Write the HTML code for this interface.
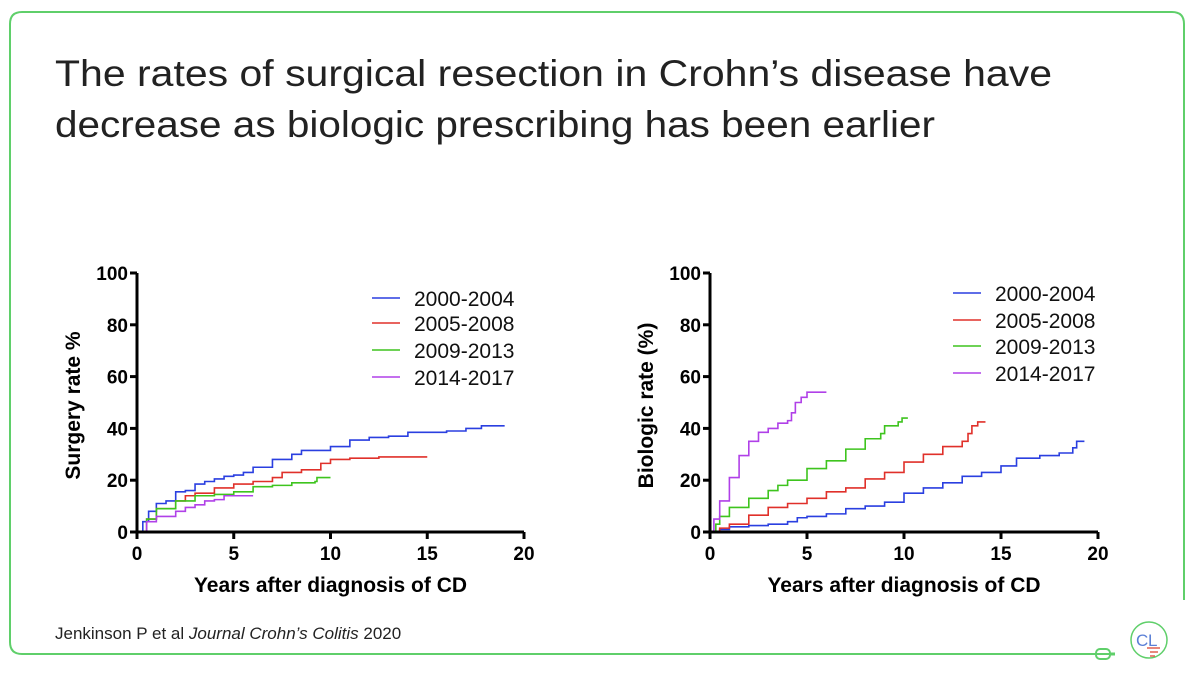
<!DOCTYPE html>
<html><head><meta charset="utf-8"><style>
html,body{margin:0;padding:0;background:#fff;width:1200px;height:675px;overflow:hidden}
svg{display:block;font-family:"Liberation Sans",sans-serif}
</style></head><body>
<svg id="s" width="1200" height="675" viewBox="0 0 1200 675">
<path d="M1110 654 L22 654 Q10 654 10 642 L10 24 Q10 12 22 12 L1172 12 Q1184 12 1184 24 L1184 600" fill="none" stroke="#5fcf6a" stroke-width="2"/>
<rect x="1096" y="649" width="14" height="10" rx="4" fill="none" stroke="#5fcf6a" stroke-width="2"/>
<line x1="1110" y1="654" x2="1115" y2="654" stroke="#5fcf6a" stroke-width="3"/>
<g>
<circle cx="1149" cy="640" r="18" fill="none" stroke="#5fcf6a" stroke-width="1.5"/>
<text x="1136" y="646" font-size="17" fill="#5a7fd6">C</text><text x="1148" y="646" font-size="17" fill="#5a7fd6">L</text>
<path d="M1147 648 H1160 M1150 652 H1158 M1150 656 H1155" stroke="#e06050" stroke-width="1.5"/>
</g>
<text x="55" y="86" font-size="37" fill="#222" textLength="997" lengthAdjust="spacingAndGlyphs">The rates of surgical resection in Crohn’s disease have</text>
<text x="55" y="137" font-size="37" fill="#222" textLength="880" lengthAdjust="spacingAndGlyphs">decrease as biologic prescribing has been earlier</text>
<text x="55" y="639" font-size="17" fill="#222">Jenkinson P et al <tspan font-style="italic">Journal Crohn’s Colitis</tspan> 2020</text>
<g id="c1"></g><g id="c2"></g>
</svg>
<script>
const seriesNames=["2000-2004","2005-2008","2009-2013","2014-2017"];
const colors=["#2a3fe0","#e0302a","#3ec41e","#b040e8"];
const xTicks=[0,5,10,15,20];
const yTicks=[0,20,40,60,80,100];
const surgBlueX=[0,0.3,0.6,1,1.5,2,2.5,3,3.5,4,4.5,5,5.5,6,7,8,8.5,10,11,12,13,14,16,17,17.8,19];
const surgBlueY=[0,4,8,11,12,15.5,16,18.5,19.5,20.5,21.5,22,23,25,28,30,31.5,33,35.5,36.5,37,38.5,39,40,41,41];
const surgRedX=[0,0.5,1,2,2.5,3,4,5,6,7,7.5,8.5,9.5,10,11,12.5,15];
const surgRedY=[0,5,9,12,14,15,17,18.5,19.5,21,23,24,26.5,28,28.5,29,29];
const surgGreenX=[0,0.5,1,2,3,4,5,6,7,8,9.2,9.3,10];
const surgGreenY=[0,5,9,12,14,14.5,15.5,17.5,18,19,19.5,21,21];
const surgPurpleX=[0,0.5,1,2,2.5,3,3.5,4,4.5,6];
const surgPurpleY=[0,4,6,8,9.5,10.5,12,12.5,14,14];
const bioBlueX=[0,0.5,1,2,3,4,4.5,5,6,7,8,9,10,11,12,13,14,15,15.8,17,18,18.7,18.9,19.3];
const bioBlueY=[0,1,2,2.5,3,4,5.5,6,7,9,10,11.5,15,17,19,21.5,23,25.5,28.5,29.5,30.5,32.5,35,35];
const bioRedX=[0,0.5,1,2,3,4,5,6,7,8,9,10,11,12,13,13.3,13.5,13.8,14.2];
const bioRedY=[0,1.5,3,6.5,9.5,11,13,15.5,17,20.5,23,27,30,33,35,38,41,42.5,42.5];
const bioGreenX=[0,0.3,0.5,1,2,3,3.5,4,5,6,7,8,8.8,9,9.7,9.9,10.2];
const bioGreenY=[0,3,6,9.5,13,16,18,20,24.5,27.5,32,36,38,41,42.5,44,44];
const bioPurpleX=[0,0.2,0.5,1,1.5,2,2.5,3,3.5,4,4.2,4.4,4.7,5,6];
const bioPurpleY=[0,5,12,21,29.5,35,38.5,40,42,43,46,50,52,54,54];
const NS="http://www.w3.org/2000/svg";
function mk(p,t,a){const e=document.createElementNS(NS,t);for(const k in a)e.setAttribute(k,a[k]);p.appendChild(e);return e;}
function chart(g,x0,x1,y0,y1,ytitle,sx,sy,legX,legY,prefix){
 const X=v=>x0+(x1-x0)*v/20, Y=v=>y0-(y0-y1)*v/100;
 for(let i=0;i<4;i++){
  let d="M"+X(sx[i][0])+" "+Y(sy[i][0]);
  for(let j=1;j<sx[i].length;j++){d+=" H"+X(sx[i][j])+" V"+Y(sy[i][j]);}
  const p=mk(g,"path",{d:d,fill:"none",stroke:colors[i],"stroke-width":1.6});
  
  
  const l=mk(g,"line",{x1:legX,x2:legX+28,y1:legY[i],y2:legY[i],stroke:colors[i],"stroke-width":1.6});
  
  
  const t=mk(g,"text",{x:legX+42,y:legY[i]+8,"font-size":21,fill:"#111"});t.textContent=seriesNames[i];
  
  
 }
 const ax=mk(g,"path",{d:`M${x0} ${y1} V${y0} H${x1}`,fill:"none",stroke:"#000","stroke-width":3});
 
 
 xTicks.forEach(v=>{mk(g,"line",{x1:X(v),x2:X(v),y1:y0,y2:y0+7,stroke:"#000","stroke-width":3});
  const t=mk(g,"text",{x:X(v),y:y0+28,"font-size":19,"font-weight":"bold","text-anchor":"middle"});t.textContent=v;
  
  });
 yTicks.forEach(v=>{mk(g,"line",{x1:x0-7,x2:x0,y1:Y(v),y2:Y(v),stroke:"#000","stroke-width":3});
  const t=mk(g,"text",{x:x0-9,y:Y(v)+7,"font-size":19,"font-weight":"bold","text-anchor":"end"});t.textContent=v;
  
  });
 const xt=mk(g,"text",{x:(x0+x1)/2,y:y0+60,"font-size":21,"font-weight":"bold","text-anchor":"middle"});xt.textContent="Years after diagnosis of CD";
 
 
 const yc=(y0+y1)/2+3;
 const yt=mk(g,"text",{x:x0-57,y:yc,"font-size":21,"font-weight":"bold","text-anchor":"middle",transform:`rotate(-90 ${x0-57} ${yc})`});yt.textContent=ytitle;
 
 
}
const c1=document.getElementById("c1");


chart(c1,137,524,532,273,"Surgery rate %",[surgBlueX,surgRedX,surgGreenX,surgPurpleX],[surgBlueY,surgRedY,surgGreenY,surgPurpleY],372,[298,323,350,377],"surgery");
const c2=document.getElementById("c2");


chart(c2,710,1098,532,273,"Biologic rate (%)",[bioBlueX,bioRedX,bioGreenX,bioPurpleX],[bioBlueY,bioRedY,bioGreenY,bioPurpleY],953,[293,320,346,373],"biologic");
</script>
</body></html>
